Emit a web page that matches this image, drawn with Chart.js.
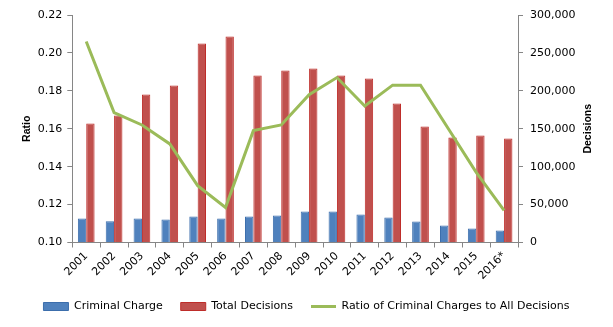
<!DOCTYPE html>
<html>
<head>
<meta charset="utf-8">
<script src="https://cdn.jsdelivr.net/npm/chart.js@4/dist/chart.umd.min.js"></script>
<style>
  html, body { margin: 0; padding: 0; background: #ffffff; }
  #chart { display: block; }
</style>
</head>
<body>
<canvas id="chart" width="613" height="327"></canvas>
<script>
// Years shown on the category axis
const years = ['2001', '2002', '2003', '2004', '2005', '2006', '2007', '2008',
               '2009', '2010', '2011', '2012', '2013', '2014', '2015', '2016*'];

// Decisions involving a criminal charge (right axis)
const criminalCharges = [31600, 28100, 31600, 30300, 34300, 31600, 34300, 35600,
                         40900, 40900, 36900, 33000, 27700, 22400, 18500, 15800];

// All decisions (right axis)
const totalDecisions = [156900, 167400, 195100, 206900, 262300, 271500, 220100, 226700,
                        229300, 220100, 216200, 183200, 152900, 138400, 141000, 137100];

// Criminal charges as a share of all decisions (left axis)
const chargeRatio = [0.206, 0.1685, 0.162, 0.152, 0.130, 0.1185, 0.159, 0.162,
                     0.178, 0.187, 0.172, 0.183, 0.183, 0.160, 0.137, 0.117];

// Axis ranges and steps
const ratioTicks = { min: 0.10, max: 0.22, step: 0.02 };
const decisionTicks = { min: 0, max: 300000, step: 50000 };

const axisGrey = '#868686';
const tickFont = { family: '"DejaVu Sans", sans-serif', size: 11 };
const titleFont = { family: '"Liberation Sans", Arial, sans-serif', size: 10.5, weight: 'bold' };

// Secondary axis title, read bottom-to-top
const rightAxisTitle = {
  id: 'rightAxisTitle',
  afterDraw(chart) {
    const { ctx, chartArea, scales } = chart;
    const s = scales.y1;
    ctx.save();
    ctx.translate(s.right - 25, (chartArea.top + chartArea.bottom) / 2);
    ctx.rotate(-Math.PI / 2);
    ctx.font = 'bold 10.5px "Liberation Sans", Arial, sans-serif';
    ctx.fillStyle = '#000000';
    ctx.textAlign = 'center';
    ctx.textBaseline = 'middle';
    ctx.fillText('Decisions', 0, 0);
    ctx.restore();
  }
};

new Chart(document.getElementById('chart'), {
  type: 'bar',
  data: {
    labels: years,
    datasets: [
      {
        label: 'Criminal Charge',
        data: criminalCharges,
        yAxisID: 'y1',
        backgroundColor: '#4F81BD',
        borderColor: '#3C6EAC',
        borderWidth: 1,
        pointStyle: 'rect',
        order: 2
      },
      {
        label: 'Total Decisions',
        data: totalDecisions,
        yAxisID: 'y1',
        backgroundColor: '#C0504D',
        borderColor: '#BE2D2A',
        borderWidth: 1,
        pointStyle: 'rect',
        order: 2
      },
      {
        type: 'line',
        label: 'Ratio of Criminal Charges to All Decisions',
        data: chargeRatio,
        yAxisID: 'y',
        borderColor: '#9BBB59',
        backgroundColor: '#9BBB59',
        borderWidth: 3,
        pointRadius: 0,
        pointHoverRadius: 0,
        pointStyle: 'line',
        tension: 0,
        order: 0
      }
    ]
  },
  options: {
    responsive: false,
    animation: false,
    devicePixelRatio: 1,
    layout: { padding: { top: 15, left: 0, right: 0, bottom: 5 } },
    datasets: {
      bar: { categoryPercentage: 0.6, barPercentage: 1.0 }
    },
    plugins: {
      legend: {
        position: 'bottom',
        labels: {
          usePointStyle: true,
          pointStyleWidth: 25,
          boxHeight: 8,
          padding: 18,
          color: '#000000',
          font: tickFont,
          sort: (a, b) => a.datasetIndex - b.datasetIndex
        }
      },
      tooltip: { enabled: false }
    },
    scales: {
      x: {
        offset: true,
        grid: {
          offset: true,
          drawOnChartArea: false,
          drawTicks: true,
          tickLength: 5,
          color: axisGrey
        },
        border: { color: axisGrey },
        ticks: {
          color: '#000000',
          font: tickFont,
          maxRotation: 45,
          minRotation: 45,
          padding: 2,
          autoSkip: false
        },
        afterFit(scale) { scale.height = 40.5; }
      },
      y: {
        position: 'left',
        min: ratioTicks.min,
        max: ratioTicks.max,
        grid: {
          drawOnChartArea: false,
          drawTicks: true,
          tickLength: 5,
          color: axisGrey
        },
        border: { color: axisGrey },
        ticks: {
          stepSize: ratioTicks.step,
          color: '#000000',
          font: tickFont,
          padding: 5,
          callback: v => Number(v).toFixed(2)
        },
        title: {
          display: true,
          text: 'Ratio',
          color: '#000000',
          font: titleFont,
          padding: { top: 21, bottom: 0 }
        },
        afterFit(scale) { scale.width = 72.3; }
      },
      y1: {
        position: 'right',
        min: decisionTicks.min,
        max: decisionTicks.max,
        grid: {
          drawOnChartArea: false,
          drawTicks: true,
          tickLength: 5,
          color: axisGrey
        },
        border: { color: axisGrey },
        ticks: {
          stepSize: decisionTicks.step,
          color: '#000000',
          font: tickFont,
          padding: 7,
          callback: v => Number(v).toLocaleString('en-US')
        },
        afterFit(scale) { scale.width = 95; }
      }
    }
  },
  plugins: [rightAxisTitle]
});
</script>
</body>
</html>
